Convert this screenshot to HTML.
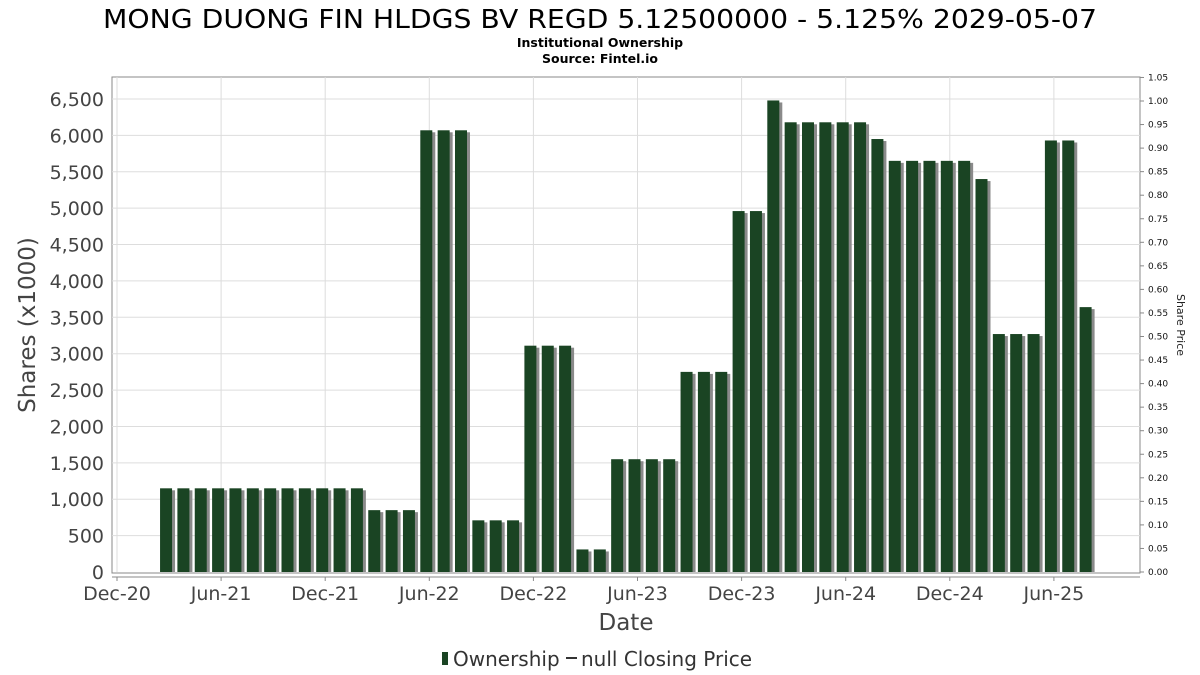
<!DOCTYPE html>
<html><head><meta charset="utf-8"><style>
html,body{margin:0;padding:0;background:#fff;}
svg{display:block;font-family:"DejaVu Sans","Liberation Sans",sans-serif;}
</style></head><body>
<svg id="chart" width="1200" height="675" viewBox="0 0 1200 675">
<text x="600" y="28" text-anchor="middle" font-size="26" fill="#000" textLength="994" lengthAdjust="spacingAndGlyphs">MONG DUONG FIN HLDGS BV REGD 5.12500000 - 5.125% 2029-05-07</text>
<text x="600" y="47" text-anchor="middle" font-size="12.5" font-weight="bold" fill="#000">Institutional Ownership</text>
<text x="600" y="63" text-anchor="middle" font-size="12.5" font-weight="bold" fill="#000">Source: Fintel.io</text>
<rect x="112" y="77" width="1028" height="496" fill="#fff" stroke="#888"/>
<g id="grid"></g>
<g id="bars"></g>
<g id="axes"></g>
<text transform="translate(35,325) rotate(-90)" text-anchor="middle" font-size="23" fill="#444">Shares (x1000)</text>
<text transform="translate(1177,325) rotate(90)" text-anchor="middle" font-size="11" fill="#222">Share Price</text>
<text x="626" y="630" text-anchor="middle" font-size="23" fill="#444">Date</text>
<g>
<rect x="442" y="652" width="6" height="13" fill="#1a4423"/>
<text x="453" y="666" font-size="20" fill="#333">Ownership</text>
<line x1="566" y1="658" x2="577" y2="658" stroke="#333" stroke-width="2"/>
<text x="581" y="666" font-size="20" fill="#333">null Closing Price</text>
</g>
</svg>
<script>
// months since Dec-2020 (0 = Dec-20)
const monthIndex = [3,4,5,6,7,8,9,10,11,12,13,14,15,16,17,18,19,20,21,22,23,24,25,26,27,28,29,30,31,32,33,34,35,36,37,38,39,40,41,42,43,44,45,46,47,48,49,50,51,52,53,54,55,56];
const shares = [1150,1150,1150,1150,1150,1150,1150,1150,1150,1150,1150,1150,850,850,850,6070,6070,6070,710,710,710,3110,3110,3110,310,310,1550,1550,1550,1550,2750,2750,2750,4960,4960,6480,6180,6180,6180,6180,6180,5950,5650,5650,5650,5650,5650,5400,3270,3270,3270,5930,5930,3640];
const yTicks = [0,500,1000,1500,2000,2500,3000,3500,4000,4500,5000,5500,6000,6500];
const y2Ticks = [0,0.05,0.1,0.15,0.2,0.25,0.3,0.35,0.4,0.45,0.5,0.55,0.6,0.65,0.7,0.75,0.8,0.85,0.9,0.95,1.0,1.05];
const xTickMonths = [0,6,12,18,24,30,36,42,48,54];
const xTickLabels = ["Dec-20","Jun-21","Dec-21","Jun-22","Dec-22","Jun-23","Dec-23","Jun-24","Dec-24","Jun-25"];

const NS="http://www.w3.org/2000/svg";
const X0=117, PXM=17.35, Y0=572, PXU=(572-99)/6500, Y2U=(572-101)/1.0;
function xs(m){return X0+m*PXM;}
function ys(v){return Y0-v*PXU;}
function y2s(v){return Y0-v*Y2U;}
function mk(tag,attrs,parent){const e=document.createElementNS(NS,tag);for(const k in attrs)e.setAttribute(k,attrs[k]);parent.appendChild(e);return e;}
const grid=document.getElementById('grid'),bars=document.getElementById('bars'),axes=document.getElementById('axes');

yTicks.forEach((t,i)=>{
  const y=ys(t);
  if(t>0){const g=mk('line',{x1:112,x2:1140,y1:y,y2:y,stroke:'#ddd'},grid);
  
  }
  const tx=mk('text',{x:104,y:y+7,'text-anchor':'end','font-size':19,fill:'#444'},axes);
  tx.textContent=t.toLocaleString('en-US');
  
  
});
y2Ticks.forEach(t=>{
  const y=y2s(t);
  mk('line',{x1:1140,x2:1144,y1:y,y2:y,stroke:'#888'},axes);
  const tx=mk('text',{x:1148,y:y+3,'font-size':9,fill:'#111'},axes);
  tx.textContent=t.toFixed(2);
  
  
});
xTickMonths.forEach((m,i)=>{
  const x=xs(m);
  const g=mk('line',{x1:x,x2:x,y1:77,y2:572,stroke:'#ddd'},grid);
  
  
  mk('line',{x1:x,x2:x,y1:577,y2:581,stroke:'#888'},axes);
  const tx=mk('text',{x:x,y:600,'text-anchor':'middle','font-size':19,fill:'#444'},axes);
  tx.textContent=xTickLabels[i];
  
  
});
mk('line',{x1:112,x2:1140,y1:577,y2:577,stroke:'#888'},axes);

monthIndex.forEach((m,i)=>{
  const cx=xs(m)-3, top=ys(shares[i]), w=12;
  const s=mk('rect',{x:cx-w/2+3,y:top+2,width:w,height:Y0-top-2,fill:'#8a8a8a'},bars);
  
  
  const b=mk('rect',{x:cx-w/2,y:top,width:w,height:Y0-top,fill:'#1a4423'},bars);
  
  
});
</script>
</body></html>
